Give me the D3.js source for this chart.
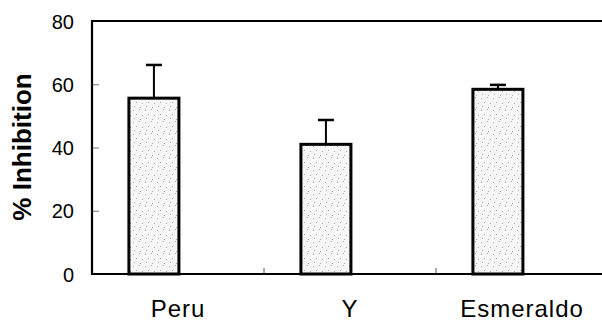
<!DOCTYPE html>
<html>
<head>
<meta charset="utf-8">
<script src="https://cdn.jsdelivr.net/npm/d3@7"></script>
<style>
  body { margin: 0; background: #fff; }
  text { font-family: "Liberation Sans", Arial, sans-serif; fill: #000; }
</style>
</head>
<body>
<svg id="chart" width="602" height="324"></svg>
<script>
// data
const categories = ['Peru', 'Y', 'Esmeraldo'];
const inhibition = [55.6, 41.0, 58.4];
const errorUp = [10.5, 7.7, 1.4];
const yTicks = [0, 20, 40, 60, 80];

const svg = d3.select('#chart');
const margin = { top: 21, left: 92, bottom: 50 };
const plotRight = 608; // frame runs just past the picture edge
const plotBottom = 324 - margin.bottom;

const yScale = d3.scaleLinear()
  .domain([0, 80])
  .range([plotBottom, margin.top]);

const xScale = d3.scaleBand()
  .domain(categories)
  .range([margin.left, plotRight])
  .padding(0);

const barW = 50;
// bars sit left of the band centre in the original
const barX = c => xScale(c) + xScale.bandwidth() * 0.36 - barW / 2;

// sparse stipple fill
const defs = svg.append('defs');
const pat = defs.append('pattern')
  .attr('id', 'stip')
  .attr('patternUnits', 'userSpaceOnUse')
  .attr('width', 12).attr('height', 12);
pat.append('rect').attr('width', 12).attr('height', 12).attr('fill', '#f6f6f6');
[[1, 2], [7, 1], [4, 6], [10, 7], [2, 10], [8, 11]].forEach(p => {
  pat.append('rect').attr('x', p[0]).attr('y', p[1])
    .attr('width', 1).attr('height', 1).attr('fill', '#aaa');
});

// y axis ticks + labels
const yAxis = d3.axisLeft(yScale)
  .tickValues(yTicks)
  .tickSize(-7)
  .tickPadding(18);
const yAxisG = svg.append('g')
  .attr('transform', `translate(${margin.left},0)`)
  .call(yAxis);
yAxisG.select('.domain').remove();
yAxisG.selectAll('.tick line').attr('stroke', '#777').attr('stroke-width', 1);
yAxisG.selectAll('text')
  .style('font-size', '20px')
  .attr('dy', '0.36em');

// x axis ticks at band boundaries
const xAxisG = svg.append('g');
xAxisG.selectAll('line').data(categories.slice(1))
  .enter().append('line')
  .attr('x1', d => xScale(d)).attr('x2', d => xScale(d))
  .attr('y1', plotBottom).attr('y2', plotBottom - 6)
  .attr('stroke', '#555').attr('stroke-width', 1);

xAxisG.selectAll('text').data(categories)
  .enter().append('text')
  .attr('x', d => xScale(d) + xScale.bandwidth() / 2)
  .attr('y', 317)
  .attr('text-anchor', 'middle')
  .style('font-size', '24px')
  .style('letter-spacing', '1px')
  .text(d => d);

// frame
svg.append('path')
  .attr('d', `M${plotRight},${margin.top}H${margin.left}V${plotBottom}H${plotRight}`)
  .attr('fill', 'none')
  .attr('stroke', '#000')
  .attr('stroke-width', 2.2);

// error bars
const errG = svg.append('g');
categories.forEach((c, i) => {
  const cx = barX(c) + barW / 2;
  const top = yScale(inhibition[i] + errorUp[i]);
  errG.append('line')
    .attr('x1', cx).attr('x2', cx)
    .attr('y1', yScale(inhibition[i])).attr('y2', top)
    .attr('stroke', '#000').attr('stroke-width', 2);
  errG.append('line')
    .attr('x1', cx - 8).attr('x2', cx + 8)
    .attr('y1', top).attr('y2', top)
    .attr('stroke', '#000').attr('stroke-width', 2.5);
});

// bars
svg.append('g').selectAll('rect').data(categories)
  .enter().append('rect')
  .attr('x', d => barX(d))
  .attr('y', (d, i) => yScale(inhibition[i]))
  .attr('width', barW)
  .attr('height', (d, i) => plotBottom - yScale(inhibition[i]))
  .attr('fill', 'url(#stip)')
  .attr('stroke', '#000')
  .attr('stroke-width', 3);

// y axis title
svg.append('text')
  .attr('transform', 'translate(31,147) rotate(-90)')
  .attr('text-anchor', 'middle')
  .style('font-size', '26px')
  .style('font-weight', 'bold')
  .text('% Inhibition');
</script>
</body>
</html>
